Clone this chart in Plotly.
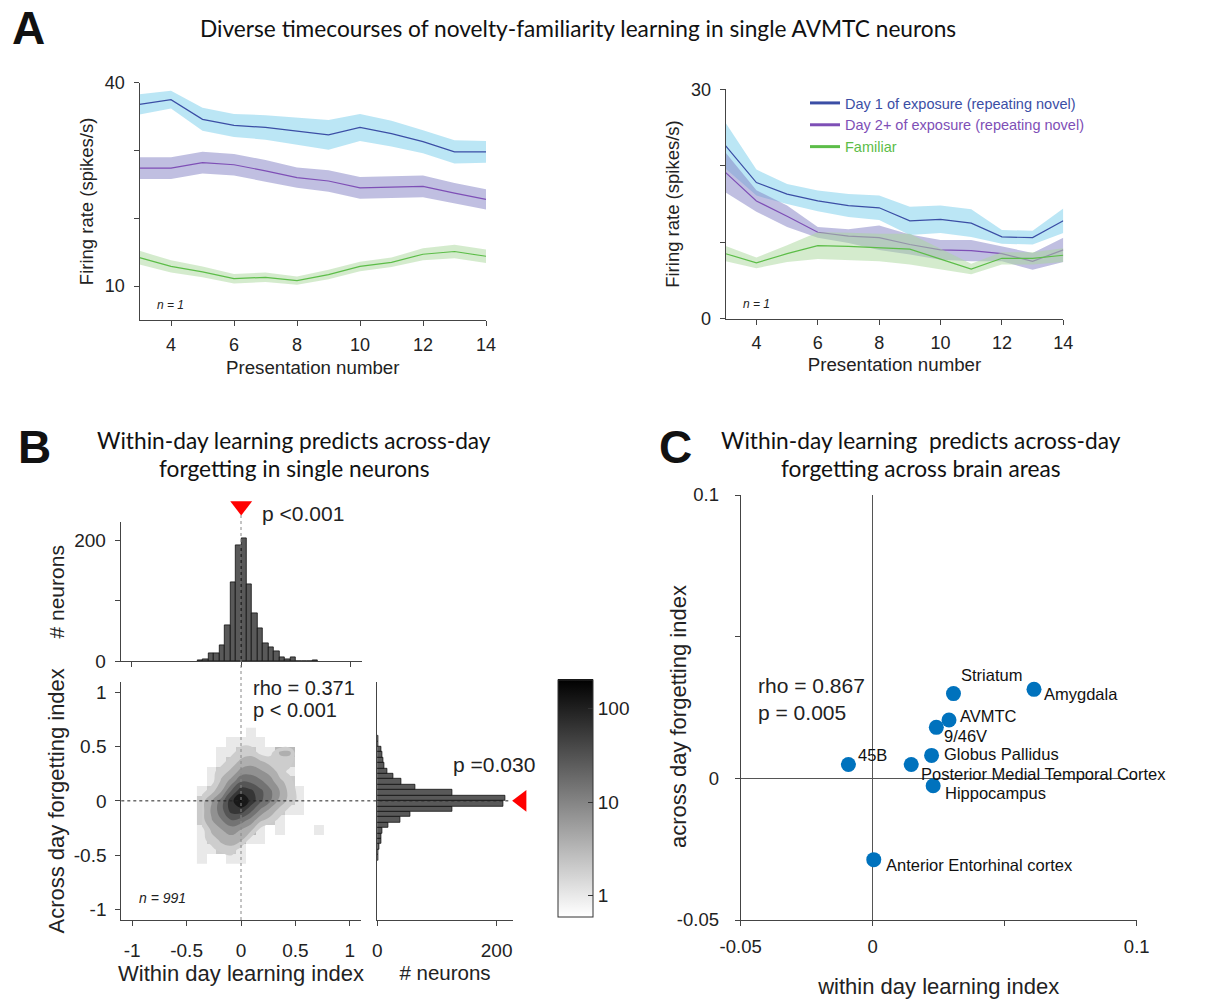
import math
import plotly.graph_objects as go

W, H = 1220, 999


def fx(p):
    return p / W


def fy(p):
    return 1 - p / H


FONT = "Liberation Sans, Arial, sans-serif"
TFONT = "Lato, Carlito, Calibri, sans-serif"

# ---------------- Panel A data ----------------
presentation = [3, 4, 5, 6, 7, 8, 9, 10, 11, 12, 13, 14]

a1_day1_mean = [36.8, 37.5, 34.6, 33.7, 33.4, 32.9, 32.3, 33.4, 32.5, 31.3, 29.8, 29.8]
a1_day1_sem = [1.5, 1.3, 1.7, 1.7, 1.8, 2.0, 2.2, 2.0, 1.9, 1.7, 1.7, 1.6]
a1_day2_mean = [27.4, 27.4, 28.2, 27.9, 27.0, 26.0, 25.5, 24.5, 24.6, 24.7, 23.7, 22.8]
a1_day2_sem = [1.6, 1.6, 1.6, 1.6, 1.6, 1.5, 1.6, 1.6, 1.6, 1.6, 1.5, 1.5]
a1_fam_mean = [14.2, 12.9, 12.1, 11.1, 11.3, 10.8, 11.7, 12.9, 13.5, 14.7, 15.1, 14.4]
a1_fam_sem = [1.0, 0.9, 0.8, 0.7, 0.7, 0.6, 0.7, 0.7, 0.7, 0.9, 1.0, 1.0]

a2_day1_mean = [22.6, 17.8, 16.3, 15.4, 14.8, 14.5, 12.8, 13.0, 12.5, 10.7, 10.6, 12.8]
a2_day1_sem = [3.0, 1.7, 1.3, 1.35, 1.5, 1.6, 1.85, 1.8, 1.8, 0.9, 0.9, 1.6]
a2_day2_mean = [19.1, 15.4, 13.4, 11.3, 10.8, 10.6, 9.7, 9.0, 8.9, 8.5, 7.5, 9.0]
a2_day2_sem = [2.6, 1.4, 1.4, 0.7, 0.9, 1.6, 1.3, 1.3, 1.4, 1.0, 1.1, 1.6]
a2_fam_mean = [8.5, 7.3, 8.5, 9.55, 9.45, 9.3, 9.1, 7.8, 6.5, 7.9, 7.9, 8.3]
a2_fam_sem = [1.0, 0.7, 1.1, 1.75, 1.8, 1.8, 2.0, 1.3, 0.7, 0.8, 0.8, 0.9]

legend_names = ["Day 1 of exposure (repeating novel)",
                "Day 2+ of exposure (repeating novel)",
                "Familiar"]

# ---------------- Panel B data ----------------
hx_centers = [-0.375, -0.325, -0.275, -0.225, -0.175, -0.125, -0.075, -0.025,
              0.025, 0.075, 0.125, 0.175, 0.225, 0.275, 0.325, 0.375, 0.425,
              0.475, 0.525, 0.575, 0.625, 0.675]
hx_counts = [2, 4, 13, 14, 27, 59, 131, 192, 204, 128, 79, 54, 29, 24, 17, 6, 4,
             6, 0, 0, 0, 2]

hy_centers = [-0.525, -0.475, -0.425, -0.375, -0.325, -0.275, -0.225, -0.175,
              -0.125, -0.075, -0.025, 0.025, 0.075, 0.125, 0.175, 0.225, 0.275,
              0.325, 0.375, 0.425, 0.475, 0.525, 0.575]
hy_counts = [1, 1, 3, 6, 7, 9, 18, 38, 55, 126, 212, 214, 126, 63, 41, 26, 16,
             11, 10, 8, 6, 2, 1]

grid_x = [-0.36, -0.27, -0.18, -0.09, 0.0, 0.09, 0.18, 0.27, 0.36, 0.45, 0.54, 0.63, 0.72]
grid_y = [-0.54, -0.45, -0.36, -0.27, -0.18, -0.09, 0.0, 0.09, 0.18, 0.27, 0.36, 0.45, 0.54, 0.63]
grid_counts = [
    [1, 0, 0, 1, 1, 0, 0, 0, 0, 0, 0, 0, 0],
    [1, 1, 2, 2, 1, 0, 0, 0, 0, 0, 0, 0, 0],
    [1, 2, 3, 4, 3, 1, 1, 0, 0, 0, 0, 0, 0],
    [1, 3, 5, 7, 5, 3, 1, 0, 1, 0, 0, 0, 1],
    [2, 5, 10, 20, 15, 8, 3, 2, 1, 0, 0, 0, 0],
    [2, 6, 16, 55, 62, 25, 9, 4, 2, 1, 1, 0, 0],
    [2, 5, 14, 66, 180, 68, 24, 11, 4, 2, 1, 0, 0],
    [1, 2, 5, 22, 65, 50, 25, 12, 5, 2, 1, 0, 0],
    [0, 1, 3, 7, 20, 18, 12, 7, 3, 2, 0, 0, 0],
    [0, 1, 2, 3, 7, 8, 6, 4, 2, 1, 0, 0, 0],
    [0, 0, 1, 2, 3, 4, 3, 2, 2, 2, 0, 0, 0],
    [0, 0, 1, 1, 2, 2, 1, 1, 3, 3, 0, 0, 0],
    [0, 0, 0, 1, 1, 1, 1, 0, 0, 0, 0, 0, 0],
    [0, 0, 0, 0, 0, 1, 0, 0, 0, 0, 0, 0, 0],
]

# ---------------- Panel C data ----------------
regions = ["45B", "Posterior Medial Temporal Cortex", "Globus Pallidus", "9/46V",
           "AVMTC", "Striatum", "Amygdala", "Hippocampus", "Anterior Entorhinal cortex"]
within_day = [-0.0092, 0.0146, 0.0223, 0.0241, 0.0289, 0.0306, 0.0611, 0.0229, 0.0004]
across_day = [0.0049, 0.0049, 0.0081, 0.0180, 0.0206, 0.0299, 0.0314, -0.0026, -0.0287]
# label offsets in pixels (dx right, dy down)
label_offsets = [(8, -9), (8, 10), (10, -1), (6, 9), (9, -4), (6, -19), (8, 5), (10, 7), (10, 5)]

# ---------------- styles ----------------
BLUE_LINE = "#3b4ea5"
PURPLE_LINE = "#7e4fb6"
GREEN_LINE = "#5cbd48"
BLUE_BAND = "rgba(120,205,235,0.5)"
PURPLE_BAND = "rgba(130,128,195,0.5)"
GREEN_BAND = "rgba(170,215,155,0.5)"

fig = go.Figure()


def add_band(x, mean, sem, color, xa, ya):
    upper = [m + s for m, s in zip(mean, sem)]
    lower = [m - s for m, s in zip(mean, sem)]
    fig.add_trace(go.Scatter(x=x + x[::-1], y=upper + lower[::-1], fill="toself",
                             fillcolor=color, line=dict(width=0), mode="lines",
                             hoverinfo="skip", showlegend=False, xaxis=xa, yaxis=ya))


def add_line(x, y, color, xa, ya):
    fig.add_trace(go.Scatter(x=x, y=y, mode="lines", line=dict(color=color, width=1.2),
                             showlegend=False, xaxis=xa, yaxis=ya))


# Panel A left
add_band(presentation, a1_day1_mean, a1_day1_sem, BLUE_BAND, "x", "y")
add_band(presentation, a1_day2_mean, a1_day2_sem, PURPLE_BAND, "x", "y")
add_band(presentation, a1_fam_mean, a1_fam_sem, GREEN_BAND, "x", "y")
add_line(presentation, a1_day1_mean, BLUE_LINE, "x", "y")
add_line(presentation, a1_day2_mean, PURPLE_LINE, "x", "y")
add_line(presentation, a1_fam_mean, GREEN_LINE, "x", "y")

# Panel A right
add_band(presentation, a2_day1_mean, a2_day1_sem, BLUE_BAND, "x2", "y2")
add_band(presentation, a2_day2_mean, a2_day2_sem, PURPLE_BAND, "x2", "y2")
add_line(presentation, a2_day2_mean, PURPLE_LINE, "x2", "y2")
add_line(presentation, a2_day1_mean, BLUE_LINE, "x2", "y2")
add_band(presentation, a2_fam_mean, a2_fam_sem, GREEN_BAND, "x2", "y2")
add_line(presentation, a2_fam_mean, GREEN_LINE, "x2", "y2")

for name, col in zip(legend_names, [BLUE_LINE, PURPLE_LINE, GREEN_LINE]):
    fig.add_trace(go.Scatter(x=[None], y=[None], mode="lines", line=dict(color=col, width=3),
                             name='<span style="color:%s">%s</span>' % (col, name),
                             xaxis="x2", yaxis="y2", showlegend=True))

# Panel B top histogram
BAR_FILL = "#595959"
fig.add_trace(go.Bar(x=hx_centers, y=hx_counts, width=0.05, marker=dict(color=BAR_FILL,
                     line=dict(color="#111111", width=0.8)), showlegend=False,
                     xaxis="x3", yaxis="y3"))
# Panel B right histogram
fig.add_trace(go.Bar(y=hy_centers, x=hy_counts, width=0.05, orientation="h",
                     marker=dict(color=BAR_FILL, line=dict(color="#111111", width=0.8)),
                     showlegend=False, xaxis="x5", yaxis="y5"))

# Panel B 2D density
ZMIN = math.log10(0.6)
ZMAX = math.log10(204)
heat_z = [[math.log10(c) if c > 0 else None for c in row] for row in grid_counts]
fig.add_trace(go.Heatmap(
    x=grid_x, y=grid_y, z=heat_z, zmin=ZMIN, zmax=ZMAX,
    colorscale=[[0, "#ffffff"], [1, "#000000"]], xaxis="x4", yaxis="y4",
    hoverinfo="skip",
    colorbar=dict(x=fx(557.7), xanchor="left", y=fy(798), yanchor="middle",
                  len=237.4, lenmode="pixels", thickness=35, thicknessmode="pixels",
                  tickvals=[0, 1, 2], ticktext=["1", "10", "100"], ticks="inside",
                  ticklen=5, tickcolor="#333", outlinecolor="#333", outlinewidth=1,
                  tickfont=dict(size=19, family=FONT, color="#222"), xpad=0, ypad=0)))


def gray(v):
    t = (v - ZMIN) / (ZMAX - ZMIN)
    t = min(max(t, 0), 1)
    c = int(round(255 * (1 - t)))
    return "rgb(%d,%d,%d)" % (c, c, c)


C_START, C_SIZE, C_N = 0.12, 0.3, 8
cont_scale = [[0, "rgba(255,255,255,0)"]]
for i in range(C_N):
    cont_scale.append([(i + 1) / C_N, gray(C_START + C_SIZE * i + C_SIZE / 2)])
cont_z = [[math.log10(max(c, 0.5)) for c in row] for row in grid_counts]
fig.add_trace(go.Contour(
    x=grid_x, y=grid_y, z=cont_z, autocontour=False,
    contours=dict(start=C_START, end=C_START + C_SIZE * (C_N - 1), size=C_SIZE,
                  coloring="fill", showlines=False),
    line=dict(width=0, smoothing=1.2), colorscale=cont_scale, showscale=False,
    hoverinfo="skip", xaxis="x4", yaxis="y4"))

# p-value triangles (on hidden helper axes that extend the histogram scales)
fig.add_trace(go.Scatter(x=[0], y=[257], mode="markers", cliponaxis=False,
                         marker=dict(symbol="triangle-down", size=19, color="#ff0000"),
                         showlegend=False, xaxis="x3", yaxis="y7"))
fig.add_trace(go.Scatter(x=[242], y=[0], mode="markers", cliponaxis=False,
                         marker=dict(symbol="triangle-left", size=19, color="#ff0000"),
                         showlegend=False, xaxis="x8", yaxis="y5"))

# Panel C
fig.add_trace(go.Scatter(x=within_day, y=across_day, mode="markers",
                         marker=dict(size=15, color="rgb(0,114,189)"),
                         showlegend=False, xaxis="x6", yaxis="y6"))

# ---------------- axes ----------------
AX_COL = "#444444"


def axis(domain, rng, **kw):
    d = dict(domain=domain, range=rng, showline=True, linecolor=AX_COL, linewidth=1,
             ticks="outside", ticklen=5, tickcolor=AX_COL, showgrid=False, zeroline=False,
             tickfont=dict(family=FONT, size=18, color="#222"),
             title=dict(font=dict(family=FONT, size=18, color="#222")))
    d.update(kw)
    return d


def ttl(text, standoff, size=18):
    return dict(text=text, standoff=standoff, font=dict(family=FONT, size=size, color="#222"))


BTICK = dict(family=FONT, size=19, color="#222")
CTICK = dict(family=FONT, size=18.5, color="#222")

layout = dict(
    width=W, height=H, margin=dict(l=0, r=0, t=0, b=0, autoexpand=False),
    paper_bgcolor="white", plot_bgcolor="rgba(0,0,0,0)", bargap=0,
    font=dict(family=FONT, color="#222"),
    showlegend=True,
    legend=dict(x=fx(805), y=fy(87), xanchor="left", yanchor="top",
                bgcolor="rgba(0,0,0,0)", font=dict(family=FONT, size=14.5),
                itemwidth=30, tracegroupgap=0),
)

# A left
layout["xaxis"] = axis([fx(139.5), fx(486)], [3, 14], anchor="y", tickvals=[4, 6, 8, 10, 12, 14],
                       ticklabelstandoff=3, title=ttl("Presentation number", 7, 18.7))
layout["yaxis"] = axis([fy(320), fy(82.7)], [5, 40], anchor="x", tickvals=[10, 20, 30, 40],
                       ticktext=["10", "", "", "40"], ticklabelstandoff=5,
                       title=ttl("Firing rate (spikes/s)", 6, 18.5))
# A right
layout["xaxis2"] = axis([fx(725.7), fx(1063.3)], [3, 14], anchor="y2", tickvals=[4, 6, 8, 10, 12, 14],
                        ticklabelstandoff=3, title=ttl("Presentation number", 5, 18.7))
layout["yaxis2"] = axis([fy(318.7), fy(89.3)], [0, 30], anchor="x2", tickvals=[0, 10, 20, 30],
                        ticktext=["0", "", "", "30"], ticklabelstandoff=5,
                        title=ttl("Firing rate (spikes/s)", 6, 18.5))
# B top hist
layout["xaxis3"] = axis([fx(120.7), fx(361.7)], [-1.1, 1.1], anchor="y3", tickvals=[-1, 0, 1],
                        showticklabels=False)
layout["yaxis3"] = axis([fy(661.3), fy(522.3)], [0, 230], anchor="x3", tickvals=[0, 100, 200],
                        ticktext=["0", "", "200"], ticklabelstandoff=5, tickfont=BTICK,
                        title=ttl("# neurons", 3, 21))
# hidden helper axis extending the top histogram count scale upward (same px per count)
layout["yaxis7"] = dict(domain=[fy(661.3), fy(495)], range=[0, 230 * (661.3 - 495) / (661.3 - 522.3)],
                        anchor="x3", visible=False, showgrid=False, zeroline=False)
# B main
layout["xaxis4"] = axis([fx(121.3), fx(360.7)], [-1.1, 1.1], anchor="y4",
                        tickvals=[-1, -0.5, 0, 0.5, 1], ticktext=["-1", "-0.5", "0", "0.5", "1"],
                        ticklabelstandoff=8, tickfont=BTICK,
                        title=ttl("Within day learning index", 2, 22))
layout["yaxis4"] = axis([fy(920), fy(681.7)], [-1.1, 1.1], anchor="x4",
                        tickvals=[-1, -0.5, 0, 0.5, 1], ticktext=["-1", "-0.5", "0", "0.5", "1"],
                        ticklabelstandoff=5, tickfont=BTICK,
                        title=ttl("Across day forgetting index", 3, 22))
# B right hist
layout["xaxis5"] = axis([fx(377.3), fx(512.7)], [0, 227], anchor="y5", tickvals=[0, 200],
                        ticklabelstandoff=8, tickfont=BTICK, title=ttl("# neurons", 0, 20.5))
layout["yaxis5"] = axis([fy(920), fy(681.7)], [-1.1, 1.1], anchor="x5", ticks="",
                        showticklabels=False)
# hidden helper axis extending the right histogram count scale to the right
layout["xaxis8"] = dict(domain=[fx(377.3), fx(545)], range=[0, 227 * (545 - 377.3) / (512.7 - 377.3)],
                        anchor="y5", visible=False, showgrid=False, zeroline=False)
# C
layout["xaxis6"] = axis([fx(740.7), fx(1136.7)], [-0.05, 0.1], anchor="y6",
                        tickvals=[-0.05, 0, 0.05, 0.1], ticktext=["-0.05", "0", "", "0.1"],
                        zeroline=True, zerolinecolor="#555", zerolinewidth=1,
                        tickfont=CTICK, ticklabelstandoff=5,
                        title=ttl("within day learning index", 27, 22))
layout["yaxis6"] = axis([fy(920), fy(495)], [-0.05, 0.1], anchor="x6",
                        tickvals=[-0.05, 0, 0.05, 0.1], ticktext=["-0.05", "0", "", "0.1"],
                        zeroline=True, zerolinecolor="#555", zerolinewidth=1,
                        tickfont=CTICK, ticklabelstandoff=12)

fig.update_layout(**layout)

# dotted reference lines (panel B)
fig.add_shape(type="line", xref="x4", yref="paper", x0=0, x1=0, y0=fy(920), y1=fy(515),
              line=dict(color="#888888", width=1, dash="dot"), layer="above")
fig.add_shape(type="line", xref="paper", yref="y4", x0=fx(121.3), x1=fx(511), y0=0, y1=0,
              line=dict(color="#222222", width=1, dash="dot"), layer="above")

# ---------------- annotations ----------------
ann = []


def add_text(x, y, text, size, family=FONT, xanchor="center", yanchor="middle", color="#222",
             **kw):
    ann.append(dict(x=fx(x), y=fy(y), xref="paper", yref="paper", text=text, showarrow=False,
                    xanchor=xanchor, yanchor=yanchor,
                    font=dict(family=family, size=size, color=color), **kw))


add_text(28, 28, "<b>A</b>", 46, family="Liberation Sans, Arial", color="#111")
add_text(34, 447, "<b>B</b>", 46, family="Liberation Sans, Arial", color="#111")
add_text(675, 447, "<b>C</b>", 46, family="Liberation Sans, Arial", color="#111")
add_text(578, 28, "Diverse timecourses of novelty-familiarity learning in single AVMTC neurons",
         22.7, family=TFONT, color="#111")
add_text(294, 440, "Within-day learning predicts across-day", 22.7, family=TFONT, color="#111")
add_text(294, 468, "forgetting in single neurons", 22.7, family=TFONT, color="#111")
add_text(921, 440, "Within-day learning  predicts across-day", 22.7, family=TFONT, color="#111")
add_text(921, 468, "forgetting across brain areas", 22.7, family=TFONT, color="#111")

# panel C y-axis title
add_text(678, 717, "across day forgetting index", 22, textangle=-90)

add_text(155, 305, "<i>n = 1</i>", 12, xanchor="left")
add_text(741, 304, "<i>n = 1</i>", 12, xanchor="left")
add_text(137, 898, "<i>n = 991</i>", 14, xanchor="left")

add_text(251, 688, "rho = 0.371", 20, xanchor="left")
add_text(251, 710, "p < 0.001", 20, xanchor="left")
add_text(260, 513, "p <0.001", 21, xanchor="left")
add_text(451, 764, "p =0.030", 21, xanchor="left")
add_text(756, 685, "rho = 0.867", 21, xanchor="left")
add_text(756, 712, "p = 0.005", 21, xanchor="left")

for name, xv, yv, (dx, dy) in zip(regions, within_day, across_day, label_offsets):
    ann.append(dict(x=xv, y=yv, xref="x6", yref="y6", text=name, showarrow=False,
                    xanchor="left", yanchor="middle", xshift=dx, yshift=-dy,
                    font=dict(family=FONT, size=16.5, color="#111")))

fig.update_layout(annotations=ann)

fig.write_html("out.html", include_plotlyjs=True, full_html=True,
               config={"displayModeBar": False},
               post_script="document.body.style.margin='0px';document.body.style.padding='0px';")
